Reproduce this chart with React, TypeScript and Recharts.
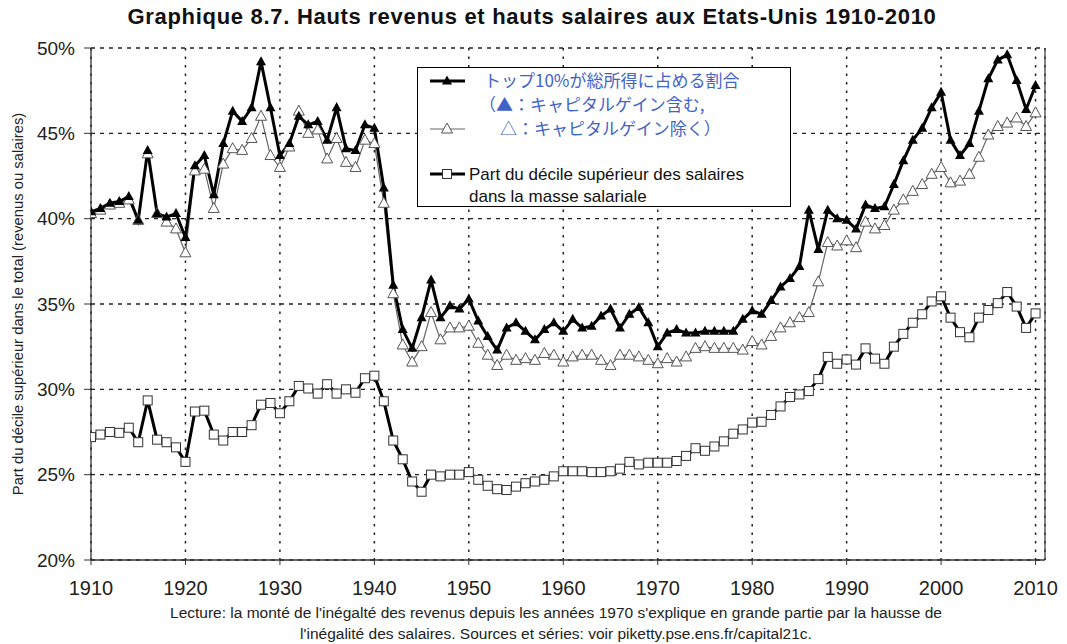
import React from "react";
import {
  LineChart,
  Line,
  XAxis,
  YAxis,
  CartesianGrid,
  ReferenceLine,
} from "recharts";

// Top decile share of total income, incl. capital gains (%)
const withGains = [
  40.4, 40.6, 40.9, 41.0, 41.3, 39.9, 44.0, 40.3, 40.1, 40.3,
  38.9, 43.1, 43.7, 41.4, 44.4, 46.3, 45.7, 46.5, 49.2, 46.5,
  43.7, 44.4, 46.0, 45.5, 45.7, 44.6, 46.5, 44.1, 44.0, 45.5,
  45.3, 41.8, 36.1, 33.5, 32.4, 34.2, 36.4, 34.2, 34.9, 34.7,
  35.3, 34.0, 33.1, 32.3, 33.6, 33.9, 33.4, 32.9, 33.5, 33.9,
  33.4, 34.1, 33.6, 33.7, 34.3, 34.7, 33.6, 34.4, 34.8, 33.9,
  32.5, 33.3, 33.5, 33.3, 33.3, 33.4, 33.4, 33.4, 33.4, 34.1,
  34.6, 34.4, 35.2, 36.0, 36.5, 37.2, 40.5, 38.2, 40.5, 40.0,
  39.9, 39.4, 40.8, 40.6, 40.7, 42.0, 43.4, 44.6, 45.3, 46.5,
  47.4, 44.6, 43.7, 44.4, 46.3, 48.2, 49.3, 49.6, 48.1, 46.4,
  47.8,
];

// Same share excluding capital gains (%)
const withoutGains = [
  40.3, 40.5, 40.8, 40.9, 41.1, 39.9, 43.8, 40.3, 39.8, 39.4,
  38.0, 42.8, 42.9, 40.6, 43.2, 44.1, 44.0, 44.7, 46.0, 43.7,
  43.0, 44.2, 46.3, 45.0, 45.2, 43.5, 44.7, 43.3, 43.0, 44.6,
  44.4, 40.9, 35.6, 32.6, 31.6, 32.5, 34.5, 32.9, 33.6, 33.6,
  33.7, 32.7, 32.0, 31.4, 32.0, 31.7, 31.8, 31.7, 32.1, 32.0,
  31.6, 31.9, 32.0, 32.0, 31.7, 31.4, 32.0, 32.0, 31.9, 31.7,
  31.5, 31.8, 31.6, 31.9, 32.4, 32.5, 32.4, 32.4, 32.4, 32.3,
  32.8, 32.6, 33.1, 33.6, 33.9, 34.2, 34.5, 36.3, 38.6, 38.4,
  38.7, 38.3, 39.8, 39.4, 39.6, 40.5, 41.1, 41.6, 42.0, 42.6,
  43.0, 42.1, 42.2, 42.6, 43.6, 44.9, 45.4, 45.6, 45.9, 45.4,
  46.2,
];

// Top decile share of the total wage bill (%)
const wageShare = [
  27.2, 27.35, 27.5, 27.45, 27.75, 26.9, 29.35, 27.05, 26.9, 26.6,
  25.75, 28.7, 28.75, 27.35, 27.0, 27.5, 27.5, 27.9, 29.1, 29.2,
  28.6, 29.3, 30.2, 30.05, 29.75, 30.3, 29.75, 30.0, 29.8, 30.65,
  30.8, 29.3, 27.0, 25.9, 24.6, 24.0, 25.0, 24.9, 25.0, 25.0,
  25.15, 24.7, 24.35, 24.15, 24.1, 24.3, 24.5, 24.6, 24.7, 24.9,
  25.2, 25.2, 25.2, 25.15, 25.15, 25.2, 25.35, 25.75, 25.6, 25.7,
  25.7, 25.7, 25.8, 26.1, 26.55, 26.4, 26.65, 26.95, 27.4, 27.65,
  28.05, 28.1, 28.5, 29.0, 29.55, 29.7, 29.9, 30.6, 31.9, 31.5,
  31.75, 31.45, 32.4, 31.8, 31.5, 32.5, 33.25, 33.9, 34.4, 35.15,
  35.45, 34.2, 33.35, 33.05, 34.2, 34.65, 35.05, 35.7, 34.85, 33.6,
  34.45,
];

const years = withGains.map((_, i) => 1910 + i);
const xTicks = [1910, 1920, 1930, 1940, 1950, 1960, 1970, 1980, 1990, 2000, 2010];
const yTicks = [20, 25, 30, 35, 40, 45, 50];

const data = years.map((year, i) => ({
  year,
  withGains: withGains[i],
  withoutGains: withoutGains[i],
  wages: wageShare[i],
}));

const FONT = "'Liberation Sans', Arial, sans-serif";
const BLUE = "#3f63c9";

function FilledTriangle(props: any) {
  const { cx, cy, index } = props;
  if (cx == null || cy == null) return null;
  return (
    <path
      key={`ft-${index}`}
      d={`M${cx},${cy - 5.5} L${cx + 5},${cy + 3.5} L${cx - 5},${cy + 3.5} Z`}
      fill="#000"
    />
  );
}

function OpenTriangle(props: any) {
  const { cx, cy, index } = props;
  if (cx == null || cy == null) return null;
  return (
    <path
      key={`ot-${index}`}
      d={`M${cx},${cy - 6} L${cx + 5.5},${cy + 4} L${cx - 5.5},${cy + 4} Z`}
      fill="#fff"
      stroke="#555"
      strokeWidth={1}
    />
  );
}

function Square(props: any) {
  const { cx, cy, index } = props;
  if (cx == null || cy == null) return null;
  return (
    <rect
      key={`sq-${index}`}
      x={cx - 4.5}
      y={cy - 4.5}
      width={9}
      height={9}
      fill="#fff"
      stroke="#333"
      strokeWidth={1}
    />
  );
}

function LegendBox() {
  return (
    <svg
      width={374}
      height={140}
      style={{ position: "absolute", left: 417, top: 67 }}
    >
      <rect x={0.5} y={0.5} width={373} height={139} fill="#fff" stroke="#000" />
      <line x1={13} y1={14} x2={48} y2={14} stroke="#000" strokeWidth={3} />
      <FilledTriangle cx={30} cy={14} />
      <line x1={13} y1={62} x2={48} y2={62} stroke="#666" strokeWidth={1.2} />
      <OpenTriangle cx={30} cy={62} />
      <line x1={13} y1={107} x2={48} y2={107} stroke="#000" strokeWidth={3} />
      <Square cx={30} cy={107} />
      <g fontFamily="'Noto Sans CJK JP', sans-serif" fontSize={17} fill={BLUE}>
        <text x={67} y={20}>トップ10%が総所得に占める割合</text>
        <text x={62} y={44}>（▲：キャピタルゲイン含む,</text>
        <text x={83} y={68}>△：キャピタルゲイン除く）</text>
      </g>
      <g fontFamily={FONT} fontSize={17} fill="#111">
        <text x={52} y={113}>Part du décile supérieur des salaires</text>
        <text x={52} y={135}>dans la masse salariale</text>
      </g>
    </svg>
  );
}

export default function App() {
  return (
    <div
      style={{
        position: "absolute",
        left: 0,
        top: 0,
        width: 1067,
        height: 644,
        background: "#fff",
        fontFamily: FONT,
      }}
    >
      <div
        style={{
          position: "absolute",
          left: 0,
          top: 4,
          width: 1064,
          textAlign: "center",
          fontWeight: "bold",
          fontSize: 22,
          letterSpacing: 0.7,
          color: "#111",
        }}
      >
        Graphique 8.7. Hauts revenus et hauts salaires aux Etats-Unis 1910-2010
      </div>
      <LineChart
        width={1067}
        height={644}
        data={data}
        margin={{ top: 48, right: 22, bottom: 44, left: 51 }}
      >
        <CartesianGrid
          horizontal={true}
          vertical={false}
          stroke="#222"
          strokeWidth={1.3}
          strokeDasharray="4 5"
        />
        <CartesianGrid
          horizontal={false}
          vertical={true}
          stroke="#222"
          strokeWidth={1.5}
          strokeDasharray="2.5 6"
        />
        <XAxis
          dataKey="year"
          type="number"
          domain={[1910, 2011]}
          ticks={xTicks}
          allowDataOverflow
          tick={{ fill: "#222", fontSize: 20 }}
          tickSize={5}
          tickMargin={16}
          height={40}
          axisLine={{ stroke: "#333", strokeWidth: 1.3 }}
          tickLine={{ stroke: "#333" }}
        />
        <YAxis
          type="number"
          domain={[20, 50]}
          ticks={yTicks}
          tickFormatter={(v: number) => `${v}%`}
          tick={{ fill: "#222", fontSize: 19 }}
          tickSize={7}
          tickMargin={9}
          width={40}
          axisLine={{ stroke: "#333", strokeWidth: 1.3 }}
          tickLine={{ stroke: "#333" }}
          label={{
            value: "Part du décile supérieur dans le total (revenus ou salaires)",
            angle: -90,
            position: "left",
            offset: 33,
            style: { fontSize: 14.8, fill: "#222", textAnchor: "middle" },
          }}
        />
        <ReferenceLine x={2011} stroke="#444" strokeWidth={1.3} />
        <Line
          dataKey="withoutGains"
          stroke="#666"
          strokeWidth={1.2}
          dot={OpenTriangle}
          activeDot={false}
          isAnimationActive={false}
        />
        <Line
          dataKey="withGains"
          stroke="#000"
          strokeWidth={3}
          dot={FilledTriangle}
          activeDot={false}
          isAnimationActive={false}
        />
        <Line
          dataKey="wages"
          stroke="#000"
          strokeWidth={3}
          dot={Square}
          activeDot={false}
          isAnimationActive={false}
        />
      </LineChart>
      <LegendBox />
      <div
        style={{
          position: "absolute",
          left: 556,
          top: 602,
          transform: "translateX(-50%)",
          whiteSpace: "nowrap",
          textAlign: "center",
          fontSize: 15.5,
          lineHeight: "21px",
          color: "#222",
        }}
      >
        Lecture: la monté de l'inégalté des revenus depuis les années 1970 s'explique en grande partie par la hausse de
        <br />
        l'inégalité des salaires. Sources et séries: voir piketty.pse.ens.fr/capital21c.
      </div>
    </div>
  );
}
